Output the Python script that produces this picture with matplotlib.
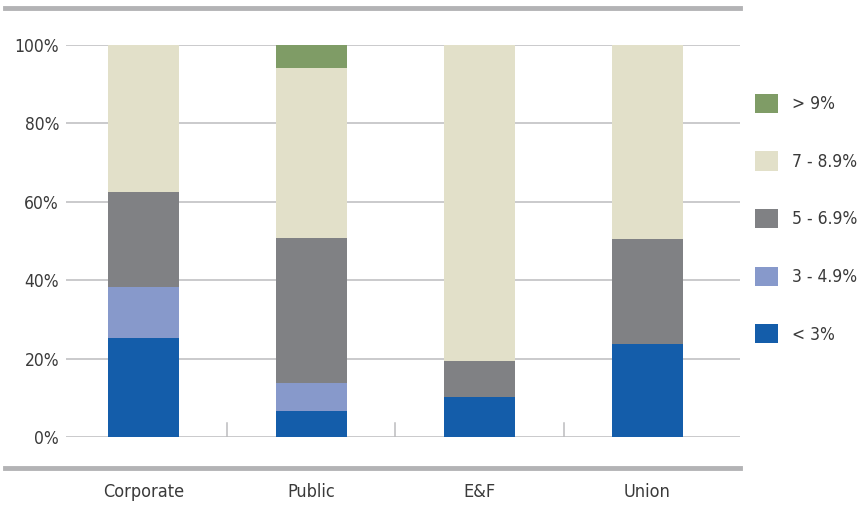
import numpy as np
import matplotlib.pyplot as plt
from matplotlib.lines import Line2D
from matplotlib.patches import Patch

plt.rcParams['font.family'] = ['DejaVu Sans']
plt.rcParams['font.stretch'] = 'condensed'

categories = ['Corporate', 'Public', 'E&F', 'Union']
series = ['< 3%', '3 - 4.9%', '5 - 6.9%', '7 - 8.9%', '> 9%']
lt3 = [25.3, 6.6, 10.1, 23.7]
r3_49 = [12.9, 7.1, 0.0, 0.0]
r5_69 = [24.3, 37.1, 9.2, 26.7]
r7_89 = [37.5, 43.3, 80.7, 49.6]
gt9 = [0.0, 5.9, 0.0, 0.0]
colors = ['#145DAA', '#8799CB', '#808184', '#E2E0C9', '#7F9C66']

values = [lt3, r3_49, r5_69, r7_89, gt9]

fig = plt.figure(figsize=(8.58, 5.05), dpi=100)
ax = fig.add_axes([66/858, 1 - 437/505, (740 - 66)/858, (437 - 45)/505])

x = np.arange(len(categories))
bottom = np.zeros(len(categories))
for vals, c in zip(values, colors):
    ax.bar(x, vals, width=0.42, bottom=bottom, color=c, zorder=3, linewidth=0)
    bottom += np.array(vals)

ax.set_ylim(0, 100)
ax.set_xlim(-0.46, 3.55)
ax.set_yticks([0, 20, 40, 60, 80, 100])
ax.set_yticklabels(['0%', '20%', '40%', '60%', '80%', '100%'])
ax.yaxis.grid(True, color='#bcbcbe', linewidth=1.1, zorder=0)
ax.set_axisbelow(True)
for s in ax.spines.values():
    s.set_visible(False)
ax.tick_params(axis='y', length=0, pad=5, labelsize=12.5, labelcolor='#3a3a3a')
ax.set_xticks(x)
ax.set_xticklabels(categories)
ax.tick_params(axis='x', length=0, pad=33, labelsize=13, labelcolor='#3a3a3a')

# small separators between categories
for xs in [0.5, 1.5, 2.5]:
    ax.plot([xs, xs], [0, 3.5], color='#bcbcbe', linewidth=1.1, zorder=1)

# thick rules at top and bottom
fig.add_artist(Line2D([5/858, 740/858], [1 - 8/505, 1 - 8/505], color='#b3b3b5', linewidth=3.5))
fig.add_artist(Line2D([5/858, 740/858], [1 - 468/505, 1 - 468/505], color='#b3b3b5', linewidth=3.5))

handles = [Patch(facecolor=c, edgecolor='none') for c in colors[::-1]]
fig.legend(handles, series[::-1], loc='upper left', bbox_to_anchor=(746/858, 1 - 85/505),
           frameon=False, fontsize=12.5, handlelength=1.33, handleheight=1.33,
           labelspacing=2.2, handletextpad=0.8, borderpad=0, labelcolor='#3a3a3a')

fig.savefig('out.png', dpi=100)
